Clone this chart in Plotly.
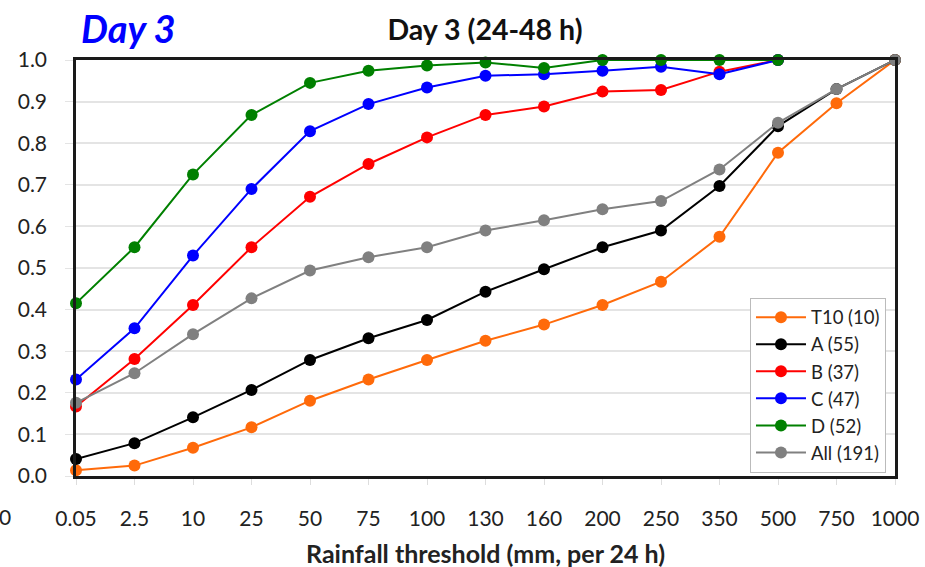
import plotly.graph_objects as go

categories = ["0.05", "2.5", "10", "25", "50", "75", "100", "130", "160", "200", "250", "350", "500", "750", "1000"]

t10 = [0.014, 0.025, 0.068, 0.117, 0.181, 0.232, 0.279, 0.325, 0.364, 0.411, 0.467, 0.575, 0.777, 0.896, 1.0]
a_vals = [0.041, 0.079, 0.141, 0.207, 0.279, 0.331, 0.375, 0.443, 0.497, 0.550, 0.590, 0.697, 0.841, 0.930, 1.0]
b_vals = [0.167, 0.281, 0.411, 0.550, 0.671, 0.750, 0.814, 0.868, 0.888, 0.924, 0.928, 0.972, 1.0]
c_vals = [0.232, 0.355, 0.530, 0.690, 0.829, 0.894, 0.934, 0.962, 0.966, 0.974, 0.984, 0.966, 1.0]
d_vals = [0.415, 0.550, 0.725, 0.868, 0.945, 0.974, 0.987, 0.994, 0.981, 1.0, 1.0, 1.0, 1.0]
all_vals = [0.176, 0.247, 0.341, 0.427, 0.494, 0.526, 0.550, 0.590, 0.615, 0.641, 0.661, 0.737, 0.849, 0.930, 1.0]

series = [
    ("T10 (10)", t10, "#FF6A0A"),
    ("A (55)", a_vals, "#000000"),
    ("B (37)", b_vals, "#FF0000"),
    ("C (47)", c_vals, "#0000FF"),
    ("D (52)", d_vals, "#008000"),
    ("All (191)", all_vals, "#808080"),
]

FONT = "Lato"

fig = go.Figure()
for name, vals, color in series:
    fig.add_trace(go.Scatter(
        x=categories[:len(vals)], y=vals, name=name, mode="lines+markers",
        line=dict(color=color, width=2),
        marker=dict(color=color, size=12),
        cliponaxis=False,
    ))

fig.update_layout(
    width=925, height=567,
    margin=dict(l=76, r=30, t=60, b=91),
    paper_bgcolor="white", plot_bgcolor="white",
    font=dict(family=FONT, size=21, color="#222222"),
    title=dict(text="<b>Day 3 (24-48 h)</b>", x=485 / 925, xanchor="center",
               y=1 - 30 / 567, yanchor="middle", font=dict(size=28.5, color="#111111", family=FONT)),
    showlegend=True,
    legend=dict(x=0.989, y=0.008, xanchor="right", yanchor="bottom",
                bgcolor="white", bordercolor="#BBBBBB", borderwidth=1,
                font=dict(size=18.5, color="#222222", family=FONT),
                tracegroupgap=0, itemwidth=50),
    xaxis=dict(
        type="category", categoryorder="array", categoryarray=categories,
        range=[0, 14], showline=True, linecolor="#1a1a1a", linewidth=2.5, mirror=True,
        showgrid=False, ticks="outside", ticklen=6, tickcolor="#DDDDDD",
        ticklabelstandoff=16, tickfont=dict(size=21), automargin=False,
    ),
    yaxis=dict(
        range=[0, 1.0], dtick=0.1, tickformat=".1f",
        showline=True, linecolor="#1a1a1a", linewidth=2.5, mirror=True,
        showgrid=True, gridcolor="#E4E4E4", gridwidth=2,
        ticks="outside", ticklen=8, tickcolor="#E4E4E4",
        ticklabelstandoff=14, tickfont=dict(size=21), zeroline=False, automargin=False,
    ),
    annotations=[
        dict(text="<b><i>Day 3</i></b>", xref="paper", yref="paper",
             x=(79 - 76) / 819, y=1 + (60 - 28) / 416, xanchor="left", yanchor="middle",
             showarrow=False, font=dict(size=38, color="#0000FF", family=FONT)),
        dict(text="0", xref="paper", yref="paper",
             x=(-3 - 76) / 819, y=-(516 - 476) / 416, xanchor="left", yanchor="middle",
             showarrow=False, font=dict(size=21, color="#222222", family=FONT)),
        dict(text="<b>Rainfall threshold (mm, per 24 h)</b>", xref="paper", yref="paper",
             x=(485 - 76) / 819, y=-(553 - 476) / 416, xanchor="center", yanchor="middle",
             showarrow=False, font=dict(size=25, color="#222222", family=FONT)),
    ],
)

fig.write_html("out.html")
